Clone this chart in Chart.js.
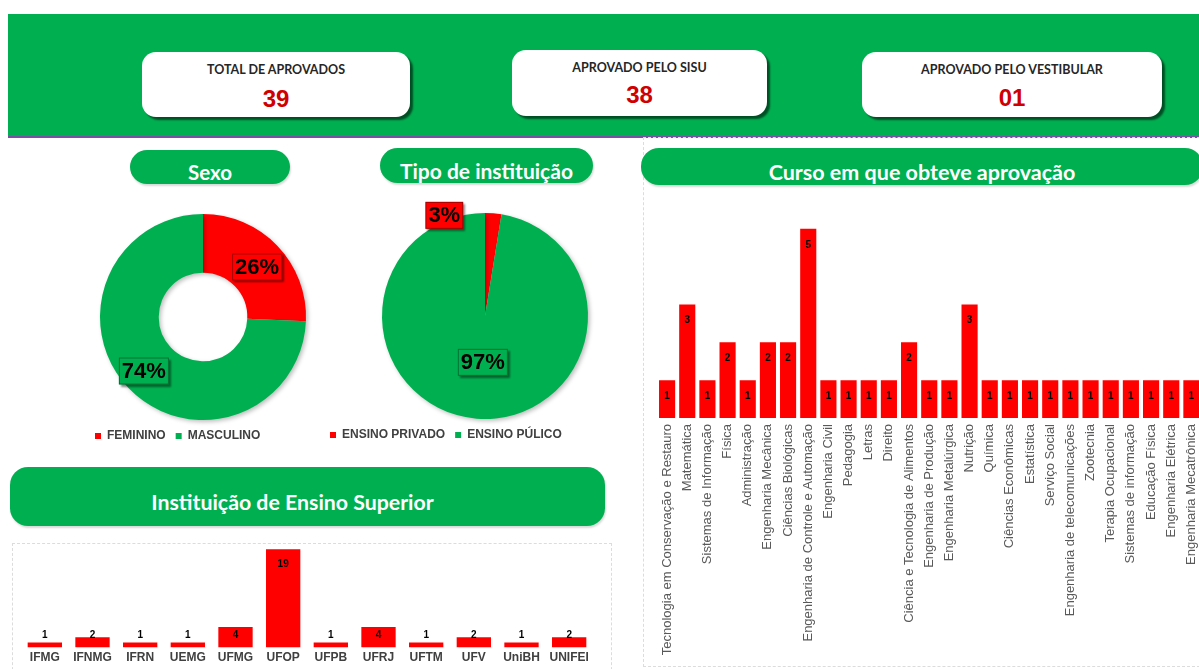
<!DOCTYPE html>
<html lang="pt-BR">
<head>
<meta charset="utf-8">
<title>Aprovados</title>
<script src="https://cdn.jsdelivr.net/npm/chart.js@4.4.1/dist/chart.umd.min.js"></script>
<style>
body { margin: 0; width: 1199px; height: 669px; overflow: hidden; background: #fff; position: relative; font-family: 'Liberation Sans', Arial, sans-serif; }
#header { position: absolute; left: 8px; top: 14px; width: 1191px; height: 122px; background: #00b050; border-bottom: 2px solid #7a4fa6; }
.kpi { position: absolute; background: #fff; border-radius: 14px; box-shadow: 3px 3px 2px rgba(0,0,0,.55); }
.kpi .t { position: absolute; left: 0; right: 0; text-align: center; font-family: Lato, sans-serif; font-weight: bold; font-size: 12.5px; line-height: 16px; color: #262626; }
.kpi .v { position: absolute; left: 0; right: 0; text-align: center; font-weight: bold; font-size: 24px; line-height: 28px; color: #d00000; }
.pill { position: absolute; background: #00b050; border-radius: 18px; color: #fff; font-family: Lato, sans-serif; font-weight: bold; text-align: center; box-shadow: 1px 2px 2px rgba(0,0,0,.15); }
.frame { position: absolute; border: 1px dashed #dcdcdc; }
canvas { position: absolute; }
</style>
</head>
<body>
<div id="header"></div>

<div class="kpi" style="left:142px;top:52px;width:268px;height:65px">
  <div class="t" style="top:10px">TOTAL DE APROVADOS</div>
  <div class="v" style="top:33px">39</div>
</div>
<div class="kpi" style="left:512px;top:50px;width:255px;height:66px">
  <div class="t" style="top:10px">APROVADO PELO SISU</div>
  <div class="v" style="top:31px">38</div>
</div>
<div class="kpi" style="left:862px;top:52px;width:300px;height:65px">
  <div class="t" style="top:10px">APROVADO PELO VESTIBULAR</div>
  <div class="v" style="top:32px">01</div>
</div>

<div class="pill" style="left:130px;top:150px;width:160px;height:34px;line-height:44px;font-size:20.5px">Sexo</div>
<div class="pill" style="left:380px;top:148px;width:213px;height:35px;line-height:46px;font-size:21px">Tipo de instituição</div>
<div class="frame" style="left:643px;top:137px;width:560px;height:528px"></div>
<div class="pill" style="left:641px;top:148px;width:562px;height:37px;line-height:48px;font-size:21.5px">Curso em que obteve aprovação</div>
<div class="pill" style="left:10px;top:467px;width:595px;height:59px;line-height:70px;font-size:21.3px;text-indent:-30px">Instituição de Ensino Superior</div>
<div class="frame" style="left:12px;top:543px;width:598px;height:140px"></div>

<canvas id="sexoChart" width="236" height="238" style="left:85px;top:214px"></canvas>
<canvas id="tipoChart" width="330" height="261" style="left:320px;top:190px"></canvas>
<canvas id="cursoChart" width="570" height="480" style="left:643px;top:185px"></canvas>
<canvas id="iesChart" width="598" height="128" style="left:12px;top:540px"></canvas>

<script>
// Data
const sexoLabels = ['FEMININO', 'MASCULINO'];
const sexoValues = [10, 29];

const tipoLabels = ['ENSINO PRIVADO', 'ENSINO PÚLICO'];
const tipoValues = [1, 38];

const cursoLabels = [
    'Tecnologia em Conservação e Restauro', 'Matemática', 'Sistemas de Informação', 'Física',
    'Administração', 'Engenharia Mecânica', 'Ciências Biológicas', 'Engenharia de Controle e Automação',
    'Engenharia Civil', 'Pedagogia', 'Letras', 'Direito', 'Ciência e Tecnologia de Alimentos',
    'Engenharia de Produção', 'Engenharia Metalúrgica', 'Nutrição', 'Química', 'Ciências Econômicas',
    'Estatística', 'Serviço Social', 'Engenharia de telecomunicações', 'Zootecnia',
    'Terapia Ocupacional', 'Sistemas de informação', 'Educação Física', 'Engenharia Elétrica',
    'Engenharia Mecatrônica'
];
const cursoValues = [1, 3, 1, 2, 1, 2, 2, 5, 1, 1, 1, 1, 2, 1, 1, 3, 1, 1, 1, 1, 1, 1, 1, 1, 1, 1, 1];

const iesLabels = ['IFMG', 'IFNMG', 'IFRN', 'UEMG', 'UFMG', 'UFOP', 'UFPB', 'UFRJ', 'UFTM', 'UFV', 'UniBH', 'UNIFEI'];
const iesValues = [1, 2, 1, 1, 4, 19, 1, 4, 1, 2, 1, 2];

const RED = '#ff0000';
const GREEN = '#00b050';

Chart.defaults.font.family = "'Liberation Sans', Arial, sans-serif";
Chart.defaults.animation = false;

// percentage boxes on the pies
const pctLabels = {
    id: 'pctLabels',
    afterDatasetsDraw(chart, args, opts) {
        const ctx = chart.ctx;
        const meta = chart.getDatasetMeta(0);
        const ds = chart.data.datasets[0];
        const total = ds.data.reduce((a, b) => a + b, 0);
        ctx.save();
        ctx.font = 'bold 22px "Liberation Sans", Arial';
        ctx.textAlign = 'center';
        ctx.textBaseline = 'middle';
        meta.data.forEach((arc, i) => {
            const txt = Math.round(ds.data[i] / total * 100) + '%';
            let p;
            if (opts.outside && opts.outside[i]) {
                const mid = (arc.startAngle + arc.endAngle) / 2;
                p = { x: arc.x + Math.cos(mid) * arc.outerRadius, y: arc.y + Math.sin(mid) * arc.outerRadius };
            } else {
                p = arc.tooltipPosition();
            }
            const off = opts.offsets[i];
            const x = p.x + off[0], y = p.y + off[1];
            const w = ctx.measureText(txt).width + 6, h = 27;
            ctx.shadowColor = 'rgba(0,0,0,0.45)';
            ctx.shadowOffsetX = 2;
            ctx.shadowOffsetY = 2;
            ctx.shadowBlur = 2;
            ctx.fillStyle = ds.backgroundColor[i];
            ctx.fillRect(x - w / 2, y - h / 2, w, h);
            ctx.shadowColor = 'transparent';
            ctx.strokeStyle = 'rgba(0,0,0,0.35)';
            ctx.lineWidth = 1;
            ctx.strokeRect(x - w / 2 + 0.5, y - h / 2 + 0.5, w - 1, h - 1);
            ctx.fillStyle = '#000';
            ctx.fillText(txt, x, y + 1);
        });
        ctx.restore();
    }
};

// soft shadow under the slices
const sliceShadow = {
    id: 'sliceShadow',
    beforeDatasetDraw(chart) {
        const ctx = chart.ctx;
        ctx.save();
        ctx.shadowColor = 'rgba(0,0,0,0.25)';
        ctx.shadowBlur = 4;
        ctx.shadowOffsetX = 2;
        ctx.shadowOffsetY = 2;
    },
    afterDatasetDraw(chart) {
        chart.ctx.restore();
    }
};

// value written on each bar
const barValueLabels = {
    id: 'barValueLabels',
    afterDatasetsDraw(chart, args, opts) {
        const ctx = chart.ctx;
        const meta = chart.getDatasetMeta(0);
        const data = chart.data.datasets[0].data;
        ctx.save();
        ctx.font = opts.font;
        ctx.fillStyle = '#000';
        ctx.textAlign = 'center';
        ctx.textBaseline = 'middle';
        meta.data.forEach((bar, i) => {
            const y = Math.min(bar.y + opts.inset, bar.base - opts.minGap);
            ctx.fillText(String(data[i]), bar.x, y);
        });
        ctx.restore();
    }
};

function pieLegend() {
    return {
        position: 'bottom',
        align: 'start',
        labels: {
            boxWidth: 6,
            boxHeight: 6,
            padding: 10,
            color: '#404040',
            font: { size: 12, weight: 'bold' }
        }
    };
}

new Chart(document.getElementById('sexoChart'), {
    type: 'doughnut',
    data: {
        labels: sexoLabels,
        datasets: [{ data: sexoValues, backgroundColor: [RED, GREEN], borderWidth: 0 }]
    },
    options: {
        responsive: false,
        cutout: '43%',
        plugins: {
            legend: pieLegend(),
            tooltip: { enabled: false },
            pctLabels: { offsets: [[1, 1], [-6, 3]] }
        }
    },
    plugins: [sliceShadow, pctLabels]
});

new Chart(document.getElementById('tipoChart'), {
    type: 'pie',
    data: {
        labels: tipoLabels,
        datasets: [{ data: tipoValues, backgroundColor: [RED, GREEN], borderWidth: 0 }]
    },
    options: {
        responsive: false,
        layout: { padding: { top: 23 } },
        plugins: {
            legend: pieLegend(),
            tooltip: { enabled: false },
            pctLabels: { outside: [true, false], offsets: [[-49, 2], [2, -5]] }
        }
    },
    plugins: [sliceShadow, pctLabels]
});

new Chart(document.getElementById('cursoChart'), {
    type: 'bar',
    data: {
        labels: cursoLabels,
        datasets: [{ data: cursoValues, backgroundColor: RED, barPercentage: 0.8, categoryPercentage: 1 }]
    },
    options: {
        responsive: false,
        layout: { padding: { top: 6, left: 14, right: 0, bottom: 0 } },
        scales: {
            x: {
                grid: { display: false, drawTicks: false },
                border: { display: false },
                afterFit(scale) { scale.height = 247; },
                ticks: {
                    autoSkip: false,
                    maxRotation: 90,
                    minRotation: 90,
                    padding: 6,
                    color: '#595959',
                    font: { size: 13 }
                }
            },
            y: { display: false, min: 0, max: 6 }
        },
        plugins: {
            legend: { display: false },
            tooltip: { enabled: false },
            barValueLabels: { font: 'bold 10px "Liberation Sans", Arial', inset: 16, minGap: 0 }
        }
    },
    plugins: [barValueLabels]
});

new Chart(document.getElementById('iesChart'), {
    type: 'bar',
    data: {
        labels: iesLabels,
        datasets: [{ data: iesValues, backgroundColor: RED, barPercentage: 0.72, categoryPercentage: 1 }]
    },
    options: {
        responsive: false,
        layout: { padding: { top: 4, left: 9, right: 17, bottom: 0 } },
        scales: {
            x: {
                grid: { display: false, drawTicks: false },
                border: { display: false },
                ticks: {
                    autoSkip: false,
                    maxRotation: 0,
                    padding: 3,
                    color: '#404040',
                    font: { size: 12, weight: 'bold' }
                }
            },
            y: { display: false, min: 0, max: 20 }
        },
        plugins: {
            legend: { display: false },
            tooltip: { enabled: false },
            barValueLabels: { font: 'bold 10px "Liberation Sans", Arial', inset: 15, minGap: 12 }
        }
    },
    plugins: [barValueLabels]
});
</script>
</body>
</html>
